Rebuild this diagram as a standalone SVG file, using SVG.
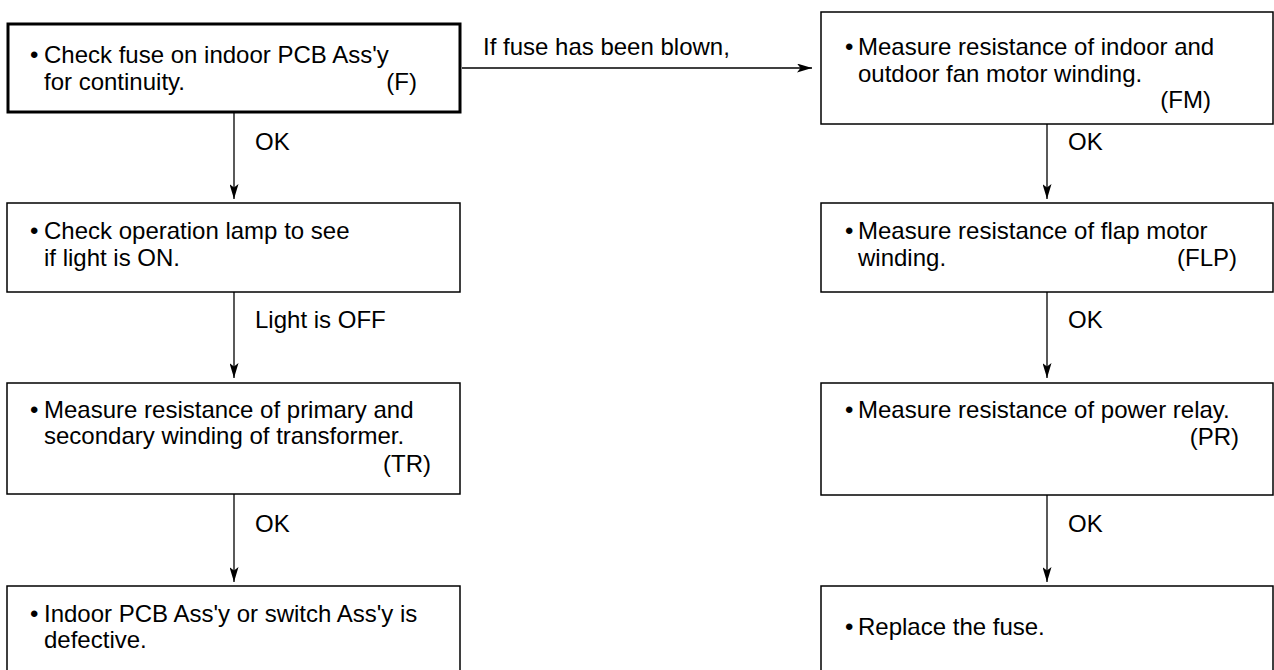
<svg xmlns="http://www.w3.org/2000/svg" width="1274" height="670" viewBox="0 0 1274 670">
<style>
  text { font-family: "Liberation Sans", Arial, sans-serif; font-size: 24px; fill: #000; }
  .end { text-anchor: end; }
  .box { fill: #fff; stroke: #000; stroke-width: 1.5; }
  .open { fill: none; stroke: #000; stroke-width: 1.5; }
  .thick { fill: #fff; stroke: #000; stroke-width: 3; }
  .conn { stroke: #000; stroke-width: 1.3; fill: none; marker-end: url(#arr); }
</style>
<defs>
  <marker id="arr" viewBox="0 0 15 9" refX="15" refY="4.5" markerWidth="15" markerHeight="9" orient="auto" markerUnits="userSpaceOnUse">
    <path d="M0,0 L15,4.5 L0,9 L3.5,4.5 Z" fill="#000"/>
  </marker>
</defs>
<rect width="1274" height="670" fill="#fff"/>

<g id="connectors">
  <line class="conn" x1="462" y1="68" x2="812" y2="68"/>
  <line class="conn" x1="234" y1="113" x2="234" y2="199"/>
  <line class="conn" x1="234" y1="292" x2="234" y2="378"/>
  <line class="conn" x1="234" y1="494" x2="234" y2="582"/>
  <line class="conn" x1="1047" y1="124" x2="1047" y2="199"/>
  <line class="conn" x1="1047" y1="292" x2="1047" y2="378"/>
  <line class="conn" x1="1047" y1="495" x2="1047" y2="582"/>
  <text x="483" y="55">If fuse has been blown,</text>
  <text x="255" y="150">OK</text>
  <text x="255" y="328">Light is OFF</text>
  <text x="255" y="532">OK</text>
  <text x="1068" y="150">OK</text>
  <text x="1068" y="328">OK</text>
  <text x="1068" y="532">OK</text>
</g>

<g id="node-check-fuse">
  <rect class="thick" x="8" y="24" width="452" height="88"/>
  <text x="30" y="63">•</text>
  <text x="44" y="63">Check fuse on indoor PCB Ass'y</text>
  <text x="44" y="90">for continuity.</text>
  <text class="end" x="417" y="90">(F)</text>
</g>

<g id="node-operation-lamp">
  <rect class="box" x="7" y="203" width="453" height="89"/>
  <text x="30" y="239">•</text>
  <text x="44" y="239">Check operation lamp to see</text>
  <text x="44" y="266">if light is ON.</text>
</g>

<g id="node-transformer">
  <rect class="box" x="7" y="383" width="453" height="111"/>
  <text x="30" y="418">•</text>
  <text x="44" y="418">Measure resistance of primary and</text>
  <text x="44" y="444">secondary winding of transformer.</text>
  <text class="end" x="431" y="472">(TR)</text>
</g>

<g id="node-pcb-defective">
  <path class="open" d="M7,672 V586 H460 V672"/>
  <text x="30" y="622">•</text>
  <text x="44" y="622">Indoor PCB Ass'y or switch Ass'y is</text>
  <text x="44" y="648">defective.</text>
</g>

<g id="node-fan-motor">
  <rect class="box" x="821" y="12" width="452" height="112"/>
  <text x="845" y="55">•</text>
  <text x="858" y="55">Measure resistance of indoor and</text>
  <text x="858" y="82">outdoor fan motor winding.</text>
  <text class="end" x="1211" y="108">(FM)</text>
</g>

<g id="node-flap-motor">
  <rect class="box" x="821" y="203" width="452" height="89"/>
  <text x="845" y="239">•</text>
  <text x="858" y="239">Measure resistance of flap motor</text>
  <text x="858" y="266">winding.</text>
  <text class="end" x="1237" y="266">(FLP)</text>
</g>

<g id="node-power-relay">
  <rect class="box" x="821" y="383" width="452" height="112"/>
  <text x="845" y="418">•</text>
  <text x="858" y="418">Measure resistance of power relay.</text>
  <text class="end" x="1239" y="445">(PR)</text>
</g>

<g id="node-replace-fuse">
  <path class="open" d="M821,672 V586 H1273 V672"/>
  <text x="845" y="635">•</text>
  <text x="858" y="635">Replace the fuse.</text>
</g>
</svg>
